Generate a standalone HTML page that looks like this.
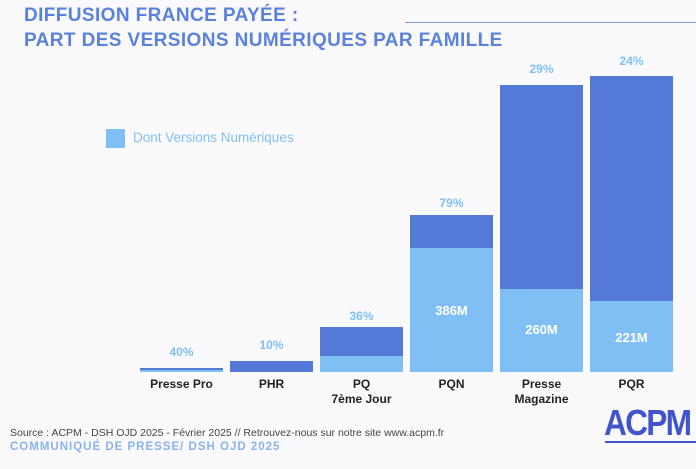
<!DOCTYPE html>
<html><head><meta charset="utf-8"><style>
body{margin:0;width:696px;height:469px;background:#fafafd;position:relative;overflow:hidden;font-family:"Liberation Sans",sans-serif}
.t{position:absolute;left:24px;color:#5a82dc;font-weight:bold;font-size:19px;letter-spacing:0.4px}
.b{position:absolute;width:83px}
.d{background:#5579d6}.l{background:#80bff4}
.p{position:absolute;width:83px;text-align:center;color:#80bff4;font-weight:bold;font-size:12px}
.x{position:absolute;width:83px;text-align:center;color:#222;font-weight:bold;font-size:12px;line-height:15px}
.v{position:absolute;width:83px;text-align:center;color:#fff;font-weight:bold;font-size:13px}
</style></head><body>
<div class="t" style="top:5px">DIFFUSION FRANCE PAYÉE :</div>
<div class="t" style="top:30px">PART DES VERSIONS NUMÉRIQUES PAR FAMILLE</div>
<div style="position:absolute;left:405px;top:22px;width:291px;height:1px;background:#8a9ad0"></div>
<div style="position:absolute;left:106px;top:129px;width:19px;height:19px;background:#80bff4"></div>
<div style="position:absolute;left:133px;top:130px;color:#80bff4;font-size:13.5px">Dont Versions Numériques</div>

<div class="b d" style="left:140px;top:368px;height:2px"></div><div class="b l" style="left:140px;top:370px;height:2px"></div>
<div class="b d" style="left:230px;top:361px;height:11px"></div>
<div class="b d" style="left:320px;top:327px;height:29px"></div><div class="b l" style="left:320px;top:356px;height:16px"></div>
<div class="b d" style="left:410px;top:215px;height:33px"></div><div class="b l" style="left:410px;top:248px;height:124px"></div>
<div class="b d" style="left:500px;top:85px;height:204px"></div><div class="b l" style="left:500px;top:289px;height:83px"></div>
<div class="b d" style="left:590px;top:76px;height:225px"></div><div class="b l" style="left:590px;top:301px;height:71px"></div>

<div class="p" style="left:140px;top:345px">40%</div>
<div class="p" style="left:230px;top:338px">10%</div>
<div class="p" style="left:320px;top:309px">36%</div>
<div class="p" style="left:410px;top:196px">79%</div>
<div class="p" style="left:500px;top:62px">29%</div>
<div class="p" style="left:590px;top:54px">24%</div>

<div class="v" style="left:410px;top:303px">386M</div>
<div class="v" style="left:500px;top:322px">260M</div>
<div class="v" style="left:590px;top:330px">221M</div>

<div class="x" style="left:140px;top:377px">Presse Pro</div>
<div class="x" style="left:230px;top:377px">PHR</div>
<div class="x" style="left:320px;top:377px">PQ<br>7ème Jour</div>
<div class="x" style="left:410px;top:377px">PQN</div>
<div class="x" style="left:500px;top:377px">Presse<br>Magazine</div>
<div class="x" style="left:590px;top:377px">PQR</div>

<div style="position:absolute;left:10px;top:427px;font-size:10.5px;color:#444">Source : ACPM - DSH OJD 2025 - Février 2025 // Retrouvez-nous sur notre site www.acpm.fr</div>
<div style="position:absolute;left:10px;top:441px;font-size:11.5px;font-weight:bold;color:#8ab3ec;letter-spacing:1px">COMMUNIQUÉ DE PRESSE/ DSH OJD 2025</div>
<div style="position:absolute;left:604px;top:402px;font-size:36px;font-weight:bold;color:#4055cc;letter-spacing:-2px;transform:scaleX(0.88);transform-origin:left">ACPM</div>
<div style="position:absolute;left:605px;top:441px;width:91px;height:2px;background:#4055cc"></div>
</body></html>
